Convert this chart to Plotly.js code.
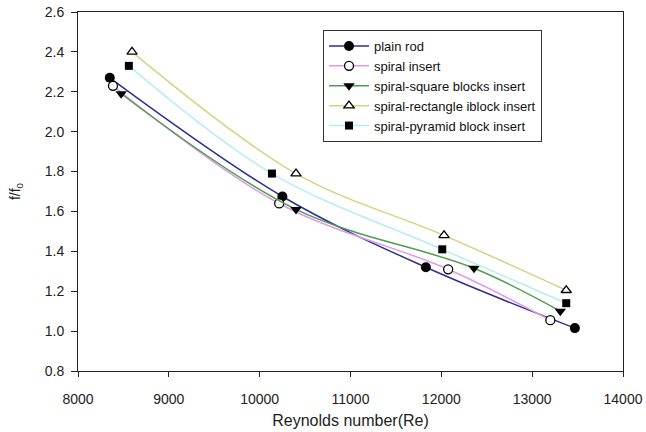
<!DOCTYPE html>
<html>
<head>
<meta charset="utf-8">
<script src="https://cdn.plot.ly/plotly-3.0.1.min.js"></script>
<style>html,body{margin:0;padding:0;background:#fff;}#chart{width:646px;height:432px;}</style>
</head>
<body>
<div id="chart"></div>
<script>
// Reynolds number (x) and f/f0 (y) for each insert type
const plainRodRe = [8350, 10250, 11830, 13470];
const plainRodF = [2.27, 1.675, 1.32, 1.015];
const spiralRe = [8385, 10215, 12075, 13200];
const spiralF = [2.23, 1.64, 1.31, 1.055];
const squareRe = [8475, 10400, 12360, 13310];
const squareF = [2.19, 1.61, 1.315, 1.10];
const rectRe = [8595, 10400, 12030, 13375];
const rectF = [2.40, 1.79, 1.48, 1.205];
const pyramidRe = [8560, 10135, 12010, 13375];
const pyramidF = [2.33, 1.79, 1.41, 1.14];
const seriesNames = ["plain rod", "spiral insert", "spiral-square blocks insert", "spiral-rectangle iblock insert", "spiral-pyramid block insert"];
const xTicks = [8000, 9000, 10000, 11000, 12000, 13000, 14000];
const yTicks = [0.8, 1.0, 1.2, 1.4, 1.6, 1.8, 2.0, 2.2, 2.4, 2.6];

function mk(x, y, name, lineColor, symbol, mColor, mLine, size) {
  return {
    x: x, y: y, name: name, type: 'scatter', mode: 'lines+markers',
    line: {color: lineColor, width: 1.5, shape: 'spline', smoothing: 1},
    marker: {symbol: symbol, color: mColor, size: size, line: {color: '#000', width: mLine}}
  };
}

const data = [
  mk(plainRodRe, plainRodF, seriesNames[0], '#2f2e96', 'circle', '#000', 0, 10),
  mk(spiralRe, spiralF, seriesNames[1], '#e29ae6', 'circle', '#fff', 1.3, 9),
  mk(squareRe, squareF, seriesNames[2], '#4f9d4f', 'triangle-down', '#000', 0, 10),
  mk(rectRe, rectF, seriesNames[3], '#d6d27e', 'triangle-up', '#fff', 1.3, 9),
  mk(pyramidRe, pyramidF, seriesNames[4], '#b4eef5', 'square', '#000', 0, 8)
];

const layout = {
  width: 646, height: 432,
  margin: {l: 78, r: 23, t: 12, b: 61},
  paper_bgcolor: '#fff', plot_bgcolor: '#fff',
  font: {family: 'Liberation Sans, Arial, sans-serif', color: '#222', size: 14},
  showlegend: true,
  legend: {
    x: (323 - 78) / 545, y: (371 - 30) / 359, xanchor: 'left', yanchor: 'top',
    bgcolor: '#fff', bordercolor: '#333', borderwidth: 1,
    itemwidth: 40,
    font: {size: 13, color: '#111'}
  },
  xaxis: {
    range: [8000, 14000], tickvals: xTicks, ticktext: xTicks.map(String),
    showgrid: false, zeroline: false, showline: true, linecolor: '#222', linewidth: 1,
    mirror: true, ticks: 'outside', ticklen: 5, tickcolor: '#222',
    ticklabelstandoff: 10,
    tickfont: {size: 14},
    title: {text: 'Reynolds number(Re)', font: {size: 16}, standoff: 9}
  },
  yaxis: {
    range: [0.8, 2.6], tickvals: yTicks, ticktext: yTicks.map(v => v.toFixed(1)),
    showgrid: false, zeroline: false, showline: true, linecolor: '#222', linewidth: 1,
    mirror: true, ticks: 'outside', ticklen: 6, tickcolor: '#222',
    ticklabelstandoff: 4,
    tickfont: {size: 14},
    title: {text: 'f/f<sub>0</sub>', font: {size: 14}, standoff: 20}
  }
};

Plotly.newPlot('chart', data, layout, {displayModeBar: false, staticPlot: true});
</script>
</body>
</html>
